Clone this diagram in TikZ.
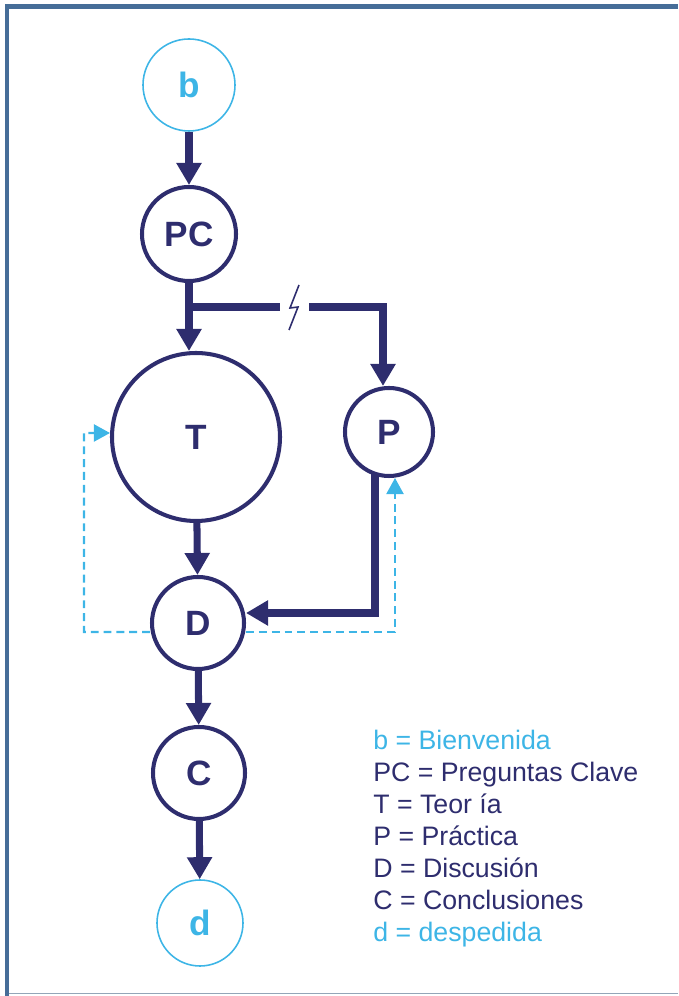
\documentclass[tikz,border=0pt]{standalone}
\usepackage{fontspec}
\setmainfont{Liberation Sans}
\usetikzlibrary{calc}
\usetikzlibrary{arrows.meta}
\definecolor{navy}{RGB}{46,45,110}
\definecolor{sky}{RGB}{61,181,230}
\definecolor{frameblue}{RGB}{70,109,152}
\definecolor{framegray}{RGB}{147,165,184}

\begin{document}
\begin{tikzpicture}[S/.style={circle, draw=navy, line width=2.3pt, text=navy, inner sep=0pt, font=\fontsize{20}{24}\selectfont\bfseries},
E/.style={circle, draw=sky, line width=0.9pt, text=sky, inner sep=0pt, font=\fontsize{20}{24}\selectfont\bfseries},
lF/.style={navy, line width=4pt, line join=miter, -{Triangle[length=4.4mm,width=4.8mm]}},
lB/.style={sky, line width=1.2pt, dash pattern=on 4.5pt off 2.8pt, -{Triangle[length=3.2mm,width=3.4mm]}},
key/.style={anchor=base west, inner sep=0pt, font=\fontsize{15.2}{18}\selectfont}]
%
\useasboundingbox (0,0) rectangle (13.56,19.92);

% frame
\fill[frameblue] (0.1,19.74) rectangle (13.56,19.84);
\fill[frameblue] (0.1,0) rectangle (0.18,19.84);
\draw[framegray, line width=0.8pt] (0.18,0.05) -- (13.56,0.05);

\node[E, minimum size=1.84cm] at (3.78,18.22) (b) {b};
\node[S, minimum size=1.88cm] at (3.78,15.24) (PC) {PC};
\node[S, minimum size=3.36cm] at (3.92,11.18) (T) {T};
\node[S, minimum size=1.76cm] at (7.78,11.28) (P) {P};
\node[S, minimum size=1.84cm] at (3.96,7.46) (D) {D};
\node[S, minimum size=1.84cm] at (3.98,4.46) (C) {C};
\node[E, minimum size=1.72cm] at (4.00,1.46) (d) {d};

\coordinate (br) at (3.78,13.78);
\coordinate (gapL) at (5.60,13.78);
\coordinate (gapR) at (6.18,13.78);
\coordinate (fbL) at (1.68,11.26);

\draw[lF] (b) -- (PC);
\draw[lF] (PC.south) -- (PC.south |- T.north);
\draw[navy, line width=4pt] (br) -- (gapL);
\draw[lF] (gapR) -| ([xshift=-0.12cm]P.north);
\draw[navy, line width=0.9pt] (5.98,14.22) -- (5.80,13.76) -- (5.96,13.78) -- (5.78,13.32);
\draw[lF] (T) -- (D);
\draw[lF] ([xshift=-0.28cm,yshift=0.1cm]P.south) |- ([yshift=0.2cm]D.east);
\draw[lF] (D) -- (C);
\draw[lF] (C) -- (d);

\draw[lB] ([yshift=-0.18cm]D.west) -| (fbL) -- ([yshift=0.08cm]T.west);
\draw[lB] ([yshift=-0.18cm]D.east) -| ([xshift=0.12cm]P.south);

\foreach \txt/\col [count=\i from 0] in {b = Bienvenida/sky, PC = Preguntas Clave/navy, T = Teor ía/navy, P = Práctica/navy, D = Discusión/navy, C = Conclusiones/navy, d = despedida/sky}
  \node[key, text=\col] (key\i) at (7.46,4.92-0.64*\i) {\txt};

\end{tikzpicture}
\end{document}
